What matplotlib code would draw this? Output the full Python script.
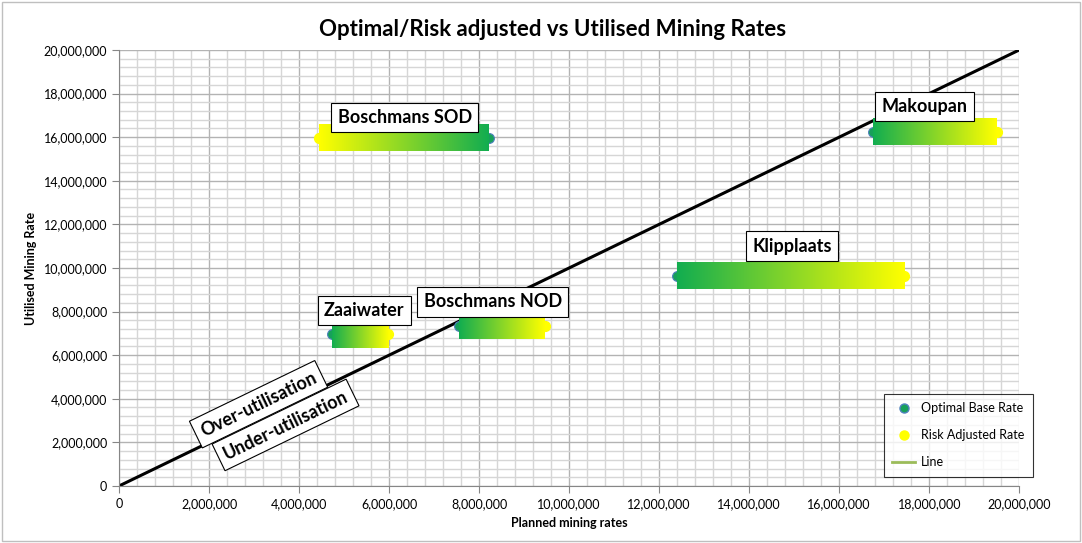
import matplotlib.pyplot as plt
import numpy as np
from matplotlib.colors import LinearSegmentedColormap
from matplotlib.lines import Line2D
from matplotlib.ticker import MultipleLocator, FuncFormatter

plt.rcParams['font.family'] = ['Lato', 'DejaVu Sans']

# mine data
mines = ['Zaaiwater', 'Boschmans NOD', 'Boschmans SOD', 'Klipplaats', 'Makoupan']
optimal_rate = [4.73e6, 7.56e6, 8.22e6, 12.4e6, 16.75e6]
risk_adj_rate = [5.98e6, 9.47e6, 4.45e6, 17.45e6, 19.5e6]
utilised_rate = [6.95e6, 7.35e6, 15.95e6, 9.65e6, 16.25e6]
label_pos = [(5.45e6, 8.05e6), (8.3e6, 8.45e6), (6.35e6, 16.9e6), (14.95e6, 11.0e6), (17.9e6, 17.4e6)]

line_x = [0, 20e6]
line_y = [0, 20e6]

fig = plt.figure(figsize=(10.82, 5.43), dpi=100)
ax = fig.add_axes([0.110, 0.105, 0.832, 0.803])

# border round the chart
fig.patches.append(plt.Rectangle((0.002, 0.004), 0.996, 0.992, transform=fig.transFigure,
                                 fill=False, edgecolor='#bfbfbf', lw=1))

ax.set_xlim(0, 20e6)
ax.set_ylim(0, 20e6)
ax.xaxis.set_major_locator(MultipleLocator(2e6))
ax.yaxis.set_major_locator(MultipleLocator(2e6))
ax.xaxis.set_minor_locator(MultipleLocator(4e5))
ax.yaxis.set_minor_locator(MultipleLocator(4e5))
fmt = FuncFormatter(lambda v, p: '{:,.0f}'.format(v))
ax.xaxis.set_major_formatter(fmt)
ax.yaxis.set_major_formatter(fmt)
ax.grid(which='major', color='#b3b3b3', lw=1)
ax.grid(which='minor', color='#d6d6d6', lw=1)
ax.set_axisbelow(True)
ax.tick_params(which='major', direction='out', length=5, color='#868686', labelsize=9)
ax.tick_params(which='minor', length=0)
for s in ['top', 'right']:
    ax.spines[s].set_visible(False)
for s in ['left', 'bottom']:
    ax.spines[s].set_color('#868686')

cmap = LinearSegmentedColormap.from_list('gy', ['#12ad50', '#ffff00'])
grad = np.linspace(0, 1, 256).reshape(1, -1)
half_h = 0.6e6

ax.plot(line_x, line_y, color='black', lw=2.2, zorder=2)

box = dict(boxstyle='square,pad=0.35', fc='white', ec='black', lw=0.8)
for name, xo, xr, y, (lx, ly) in zip(mines, optimal_rate, risk_adj_rate, utilised_rate, label_pos):
    ax.scatter([xo], [y], s=50, color='#17a05a', edgecolor='#4f81bd', lw=0.8, zorder=3)
    ax.scatter([xr], [y], s=50, color='#ffff00', edgecolor='#ffff00', zorder=3)
    ax.imshow(grad, cmap=cmap, aspect='auto', extent=[xo, xr, y - half_h, y + half_h],
              zorder=4, interpolation='bilinear')
    ax.text(lx, ly, name, ha='center', va='center', fontsize=13, fontweight='bold', zorder=5, bbox=box)

ax.set_xlim(0, 20e6)
ax.set_ylim(0, 20e6)

# region labels along the line
ang = np.degrees(np.arctan(0.803 * 5.43 / (0.832 * 10.82)))
ax.text(3.1e6, 3.75e6, 'Over-utilisation', rotation=ang, ha='center', va='center', fontsize=13,
        fontweight='bold', zorder=5, rotation_mode='anchor', bbox=box)
ax.text(3.7e6, 2.8e6, 'Under-utilisation', rotation=ang, ha='center', va='center', fontsize=13,
        fontweight='bold', zorder=5, rotation_mode='anchor', bbox=box)

fig.text(0.511, 0.945, 'Optimal/Risk adjusted vs Utilised Mining Rates', ha='center', va='center',
         fontsize=16, fontweight='bold')
ax.set_xlabel('Planned mining rates', fontsize=9, fontweight='bold', labelpad=5)
ax.set_ylabel('Utilised Mining Rate', fontsize=9, fontweight='bold', labelpad=5)

handles = [
    Line2D([], [], ls='none', marker='o', markersize=6.5, markerfacecolor='#17a05a', markeredgecolor='#4f81bd'),
    Line2D([], [], ls='none', marker='o', markersize=6.5, markerfacecolor='#ffff00', markeredgecolor='#ffff00'),
    Line2D([], [], color='#9bbb59', lw=2),
]
leg = ax.legend(handles, ['Optimal Base Rate', 'Risk Adjusted Rate', 'Line'], loc='lower right',
                bbox_to_anchor=(1.0156, 0.0206), borderaxespad=0, fontsize=9, frameon=True,
                fancybox=False, edgecolor='black', labelspacing=1.2, handlelength=1.8,
                handletextpad=0.5, borderpad=0.7)
leg.get_frame().set_linewidth(0.8)
leg.set_zorder(6)

fig.savefig('out.png', dpi=100)
